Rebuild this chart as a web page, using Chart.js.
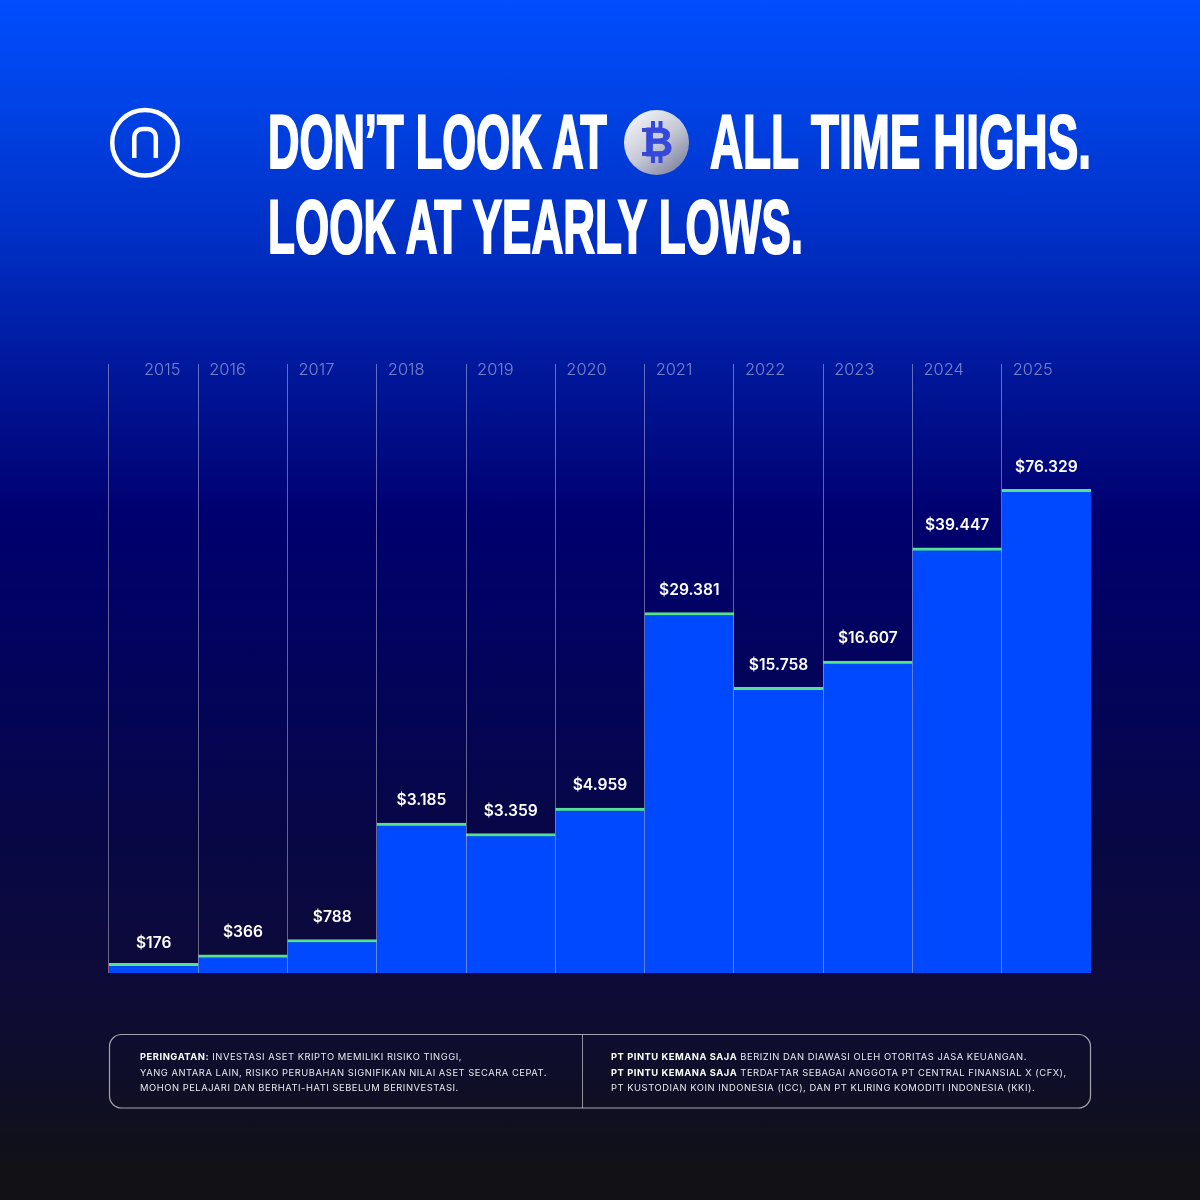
<!DOCTYPE html>
<html>
<head>
<meta charset="utf-8">
<title>Yearly lows</title>
<script src="https://cdn.jsdelivr.net/npm/chart.js@4/dist/chart.umd.min.js"></script>
<style>
html, body { margin: 0; padding: 0; }
body {
    width: 1200px; height: 1200px; position: relative; overflow: hidden;
    background: linear-gradient(180deg, #004eff 0%, #0044e8 8%, #002fc4 20%, #00179a 31%, #00006f 43%, #040455 60%, #070745 70%, #0e0b38 82%, #0f0f24 92%, #111116 97%, #111116 100%);
}
#chart { position: absolute; left: 0; top: 0; }
#overlay { position: absolute; left: 0; top: 0; }
.title { font-family: "Liberation Sans", sans-serif; font-weight: 700; font-size: 76px; fill: #fff; stroke: #fff; stroke-width: 2.2px; }
.note { font-family: Inter, sans-serif; font-size: 9.4px; fill: #e6e7ef; letter-spacing: 0.53px; }
.note .b { font-weight: 700; fill: #fff; }
</style>
</head>
<body>
<canvas id="chart" width="1200" height="1200"></canvas>
<svg id="overlay" width="1200" height="1200" viewBox="0 0 1200 1200">
    <defs>
        <linearGradient id="coin" x1="15%" y1="10%" x2="85%" y2="95%">
            <stop offset="0%" stop-color="#f0f1f6"/>
            <stop offset="50%" stop-color="#c6c9d6"/>
            <stop offset="100%" stop-color="#80849f"/>
        </linearGradient>
    </defs>
    <circle cx="145" cy="142.7" r="32.8" fill="none" stroke="#fff" stroke-width="4.5"/>
    <path d="M134.3 158 V137 a8 8 0 0 1 8 -8 h5.5 a8 8 0 0 1 8 8 V158" fill="none" stroke="#fff" stroke-width="4.5"/>

    <text class="title" x="268" y="168" textLength="339" lengthAdjust="spacingAndGlyphs">DON’T LOOK AT</text>
    <circle cx="656.5" cy="142.5" r="32.5" fill="url(#coin)"/>
    <g fill="#3448dc">
        <text x="644" y="156" font-family="Liberation Sans" font-weight="700" font-size="40" stroke="#3448dc" stroke-width="0.8" textLength="29" lengthAdjust="spacingAndGlyphs">B</text>
        <rect x="642" y="128" width="8" height="4"/>
        <rect x="642" y="152" width="8" height="4"/>
        <rect x="651" y="121" width="4" height="8"/>
        <rect x="658.5" y="121" width="4" height="8"/>
        <rect x="651" y="155" width="4" height="8"/>
        <rect x="658.5" y="155" width="4" height="8"/>
    </g>
    <text class="title" x="710" y="168" textLength="381" lengthAdjust="spacingAndGlyphs">ALL TIME HIGHS.</text>
    <text class="title" x="268" y="253" textLength="535" lengthAdjust="spacingAndGlyphs">LOOK AT YEARLY LOWS.</text>

    <rect x="109.5" y="1034.5" width="981" height="73.5" rx="12" fill="none" stroke="rgba(255,255,255,0.62)" stroke-width="1.2"/>
    <line x1="582.5" y1="1035" x2="582.5" y2="1108" stroke="rgba(255,255,255,0.55)"/>
    <text class="note" x="140" y="1060"><tspan class="b">PERINGATAN:</tspan> INVESTASI ASET KRIPTO MEMILIKI RISIKO TINGGI,</text>
    <text class="note" x="140" y="1075.5">YANG ANTARA LAIN, RISIKO PERUBAHAN SIGNIFIKAN NILAI ASET SECARA CEPAT.</text>
    <text class="note" x="140" y="1091">MOHON PELAJARI DAN BERHATI-HATI SEBELUM BERINVESTASI.</text>
    <text class="note" x="611" y="1060"><tspan class="b">PT PINTU KEMANA SAJA</tspan> BERIZIN DAN DIAWASI OLEH OTORITAS JASA KEUANGAN.</text>
    <text class="note" x="611" y="1075.5"><tspan class="b">PT PINTU KEMANA SAJA</tspan> TERDAFTAR SEBAGAI ANGGOTA PT CENTRAL FINANSIAL X (CFX),</text>
    <text class="note" x="611" y="1091">PT KUSTODIAN KOIN INDONESIA (ICC), DAN PT KLIRING KOMODITI INDONESIA (KKI).</text>
</svg>
<script>
const years = ['2015', '2016', '2017', '2018', '2019', '2020', '2021', '2022', '2023', '2024', '2025'];
// printed yearly lows
const lows = [176, 366, 788, 3185, 3359, 4959, 29381, 15758, 16607, 39447, 76329];
// the bars in the picture are not to scale with the printed prices (2018 stands above 2019),
// so this is the level each bar reaches, read as % of the axis height
const barLevels = [1.6, 3.0, 5.5, 24.6, 22.9, 27.1, 59.2, 46.9, 51.2, 69.8, 79.4];

const overlayLabels = {
    id: 'overlayLabels',
    afterDraw(chart) {
        const ctx = chart.ctx;
        const xScale = chart.scales.x;
        const colWidth = xScale.width / years.length;
        const bars = chart.getDatasetMeta(0).data;
        ctx.save();
        ctx.textBaseline = 'middle';

        // year labels sit at the top of each column, 2015 is pushed towards its right edge
        ctx.font = '300 16.4px Inter, sans-serif';
        ctx.fillStyle = 'rgba(255,255,255,0.45)';
        ctx.textAlign = 'left';
        years.forEach(function (year, i) {
            const left = xScale.getPixelForValue(i) - colWidth / 2;
            ctx.fillText(year, left + (i === 0 ? 35 : 11), chart.chartArea.top + 6);
        });

        // price above each bar, the 2015 one sits a little closer
        ctx.font = '600 15.6px Inter, sans-serif';
        ctx.fillStyle = '#ffffff';
        ctx.textAlign = 'center';
        lows.forEach(function (low, i) {
            ctx.fillText('$' + low.toLocaleString('de-DE'), bars[i].x, bars[i].y - (i === 0 ? 20 : 22.5));
        });
        ctx.restore();
    }
};

new Chart(document.getElementById('chart').getContext('2d'), {
    type: 'bar',
    data: {
        labels: years,
        datasets: [{
            data: barLevels,
            backgroundColor: '#0049ff',
            borderColor: '#52e38c',
            borderWidth: { top: 3, left: 0, right: 0, bottom: 0 },
            borderSkipped: 'bottom',
            categoryPercentage: 1,
            barPercentage: 1
        }]
    },
    options: {
        responsive: false,
        animation: false,
        devicePixelRatio: 1,
        layout: { padding: { left: 109, right: 109, top: 364, bottom: 227 } },
        plugins: { legend: { display: false }, tooltip: { enabled: false } },
        scales: {
            x: {
                offset: true,
                border: { display: false },
                ticks: { display: false },
                grid: {
                    offset: true,
                    z: 1,
                    drawTicks: false,
                    lineWidth: 1,
                    color: function (c) {
                        // the extra closing line at the right edge has no tick
                        return c.tick ? 'rgba(255,255,255,0.38)' : 'rgba(255,255,255,0)';
                    }
                }
            },
            y: { display: false, min: 0, max: 100 }
        }
    },
    plugins: [overlayLabels]
});
</script>
</body>
</html>
